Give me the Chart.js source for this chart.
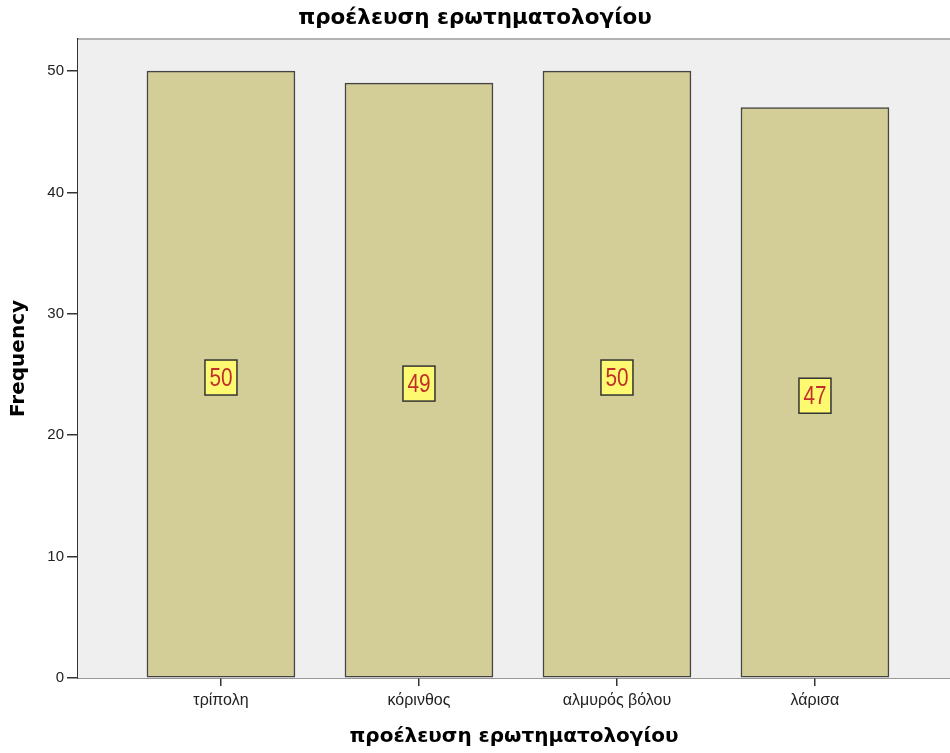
<!DOCTYPE html>
<html>
<head>
<meta charset="utf-8">
<script src="https://cdn.jsdelivr.net/npm/chart.js@4.4.0/dist/chart.umd.min.js"></script>
<style>
  html, body { margin: 0; padding: 0; background: #fff; }
  #wrap { width: 950px; height: 753px; }
</style>
</head>
<body>
<div id="wrap"><canvas id="myChart"></canvas></div>
<script>
// data
const categories = ['τρίπολη', 'κόρινθος', 'αλμυρός βόλου', 'λάρισα'];
const frequencies = [50, 49, 50, 47];
const yTicks = [0, 10, 20, 30, 40, 50];
const chartTitle = 'προέλευση ερωτηματολογίου';
const xTitle = 'προέλευση ερωτηματολογίου';
const yTitle = 'Frequency';

const points = frequencies.map(function (v, i) { return { x: i, y: v }; });

// gray plot background + thin top frame line
const plotBackground = {
    id: 'plotBackground',
    beforeDatasetsDraw: function (chart) {
        const ctx = chart.ctx;
        const a = chart.chartArea;
        ctx.save();
        ctx.fillStyle = '#efefef';
        ctx.fillRect(a.left, a.top, a.right - a.left, a.bottom - a.top);
        ctx.strokeStyle = '#9a9a9a';
        ctx.lineWidth = 1.5;
        ctx.beginPath();
        ctx.moveTo(a.left, a.top);
        ctx.lineTo(a.right, a.top);
        ctx.stroke();
        ctx.restore();
    }
};

// yellow value boxes in the middle of each bar
const valueBoxes = {
    id: 'valueBoxes',
    afterDatasetsDraw: function (chart) {
        const ctx = chart.ctx;
        const yScale = chart.scales.y;
        const meta = chart.getDatasetMeta(0);
        meta.data.forEach(function (bar, i) {
            const v = frequencies[i];
            const cx = bar.x;
            const cy = yScale.getPixelForValue(v / 2) + 3;
            const w = 32, h = 35;
            ctx.save();
            ctx.fillStyle = '#fdfa72';
            ctx.fillRect(cx - w / 2, cy - h / 2, w, h);
            ctx.strokeStyle = '#333333';
            ctx.lineWidth = 1.5;
            ctx.strokeRect(cx - w / 2, cy - h / 2, w, h);
            // narrow digits like the original
            ctx.translate(cx, cy + 1);
            ctx.scale(0.8, 1);
            ctx.font = '26px "Liberation Sans", Arial, sans-serif';
            ctx.textAlign = 'center';
            ctx.textBaseline = 'middle';
            ctx.fillStyle = '#c0302a';
            ctx.fillText(String(v), 0, 0);
            ctx.restore();
        });
    }
};

const ctx = document.getElementById('myChart');

new Chart(ctx, {
    type: 'bar',
    data: {
        datasets: [{
            label: yTitle,
            data: points,
            backgroundColor: '#d3cd97',
            borderColor: '#444444',
            borderWidth: 1.5,
            borderSkipped: false,
            barThickness: 148
        }]
    },
    options: {
        responsive: true,
        maintainAspectRatio: false,
        animation: false,
        layout: { padding: { left: 0, right: 0, top: 0, bottom: 0 } },
        plugins: {
            legend: { display: false },
            tooltip: { enabled: false },
            title: {
                display: true,
                text: chartTitle,
                color: '#000',
                font: { family: '"DejaVu Sans", sans-serif', size: 21.5, weight: 'bold', lineHeight: 1.2 },
                padding: { top: 6, bottom: 7.2 }
            }
        },
        scales: {
            x: {
                type: 'linear',
                offset: false,
                min: -0.722,
                max: 3.682,
                afterBuildTicks: function (scale) {
                    scale.ticks = categories.map(function (c, i) { return { value: i }; });
                },
                afterFit: function (scale) { scale.height = 75; },
                ticks: {
                    autoSkip: false,
                    maxRotation: 0,
                    padding: 5,
                    color: '#222',
                    font: { family: '"Liberation Sans", Arial, sans-serif', size: 16 },
                    callback: function (value) { return categories[value]; }
                },
                grid: { offset: false, drawOnChartArea: false, drawTicks: true, tickLength: 8, color: '#333', lineWidth: 1.5 },
                border: { display: true, color: '#333', width: 1.5 },
                title: {
                    display: true,
                    text: xTitle,
                    color: '#000',
                    font: { family: '"DejaVu Sans", sans-serif', size: 20, weight: 'bold', lineHeight: 1.2 },
                    padding: { top: 0, bottom: 4 }
                }
            },
            y: {
                min: 0,
                max: 52.64,
                afterBuildTicks: function (scale) {
                    scale.ticks = yTicks.map(function (v) { return { value: v }; });
                },
                afterFit: function (scale) { scale.width = 78; },
                ticks: {
                    padding: 3,
                    color: '#222',
                    font: { family: '"Liberation Sans", Arial, sans-serif', size: 15 }
                },
                grid: { drawOnChartArea: false, drawTicks: true, tickLength: 11, color: '#333', lineWidth: 1.5 },
                border: { display: true, color: '#333', width: 1.5 },
                title: {
                    display: true,
                    text: yTitle,
                    color: '#000',
                    font: { family: '"DejaVu Sans", sans-serif', size: 20, weight: 'bold', lineHeight: 1.2 },
                    padding: { top: 7, bottom: 0 }
                }
            }
        }
    },
    plugins: [plotBackground, valueBoxes]
});
</script>
</body>
</html>
